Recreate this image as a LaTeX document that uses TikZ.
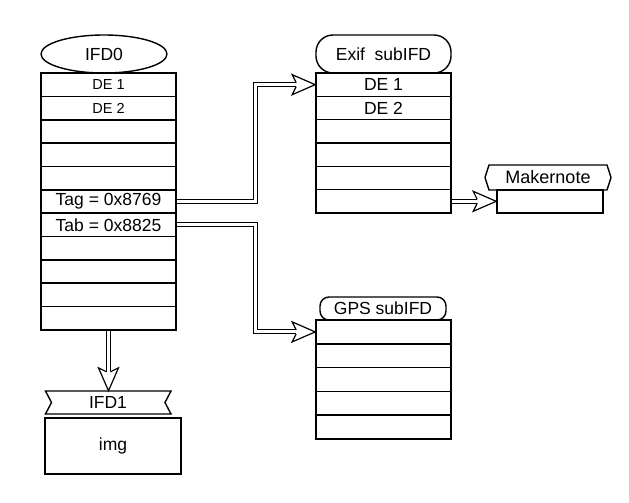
\documentclass[tikz,border=0pt]{standalone}
\usepackage{fontspec}
\setmainfont{Liberation Sans}
\usetikzlibrary{shapes.geometric}
\newcommand\fsz[1]{\fontsize{#1}{#1}\selectfont}
\begin{document}
\begin{tikzpicture}[x=1pt,y=-1pt,
  cell/.style={draw, line width=1.6pt, minimum width=135pt, inner sep=0pt, font=\fsz{17.5}},
  lbl/.style={inner sep=0pt, font=\fsz{17.5}},
  dbl/.style={draw, line width=1pt, double=white, double distance=3pt, line join=miter, shorten >=19pt},
  ohead/.pic={\filldraw[fill=white, line width=1.2pt, line join=miter] (-19,-2) -- (-23,-10) -- (0,0) -- (-23,10) -- (-19,2);}
]
\useasboundingbox (0,0) rectangle (629,503);
% IFD0
\node[draw, ellipse, line width=1.4pt, minimum width=126pt, minimum height=38pt, inner sep=0pt, font=\fsz{17.5}] (ifd0) at (104,54) {IFD0};
\foreach \i in {1,...,11}
  \node[cell, minimum height=23.36pt] (a\i) at (108.5,{73+23.36*(\i-0.5)}) {};
\node[lbl, font=\fsz{14.5}] at (a1) {DE 1};
\node[lbl, font=\fsz{14.5}] at (a2) {DE 2};
\node[lbl] at (a6) {Tag = 0x8769};
\node[lbl] at (a7) {Tab = 0x8825};
% Exif
\node[draw, line width=1.4pt, rounded corners=17pt, minimum width=135pt, minimum height=38pt, inner sep=0pt, font=\fsz{17.5}] (exif) at (383.5,54) {Exif\hspace{0.55em}subIFD};
\foreach \i in {1,...,6}
  \node[cell, minimum height=23.33pt] (e\i) at (383.5,{73+23.33*(\i-0.5)}) {};
\node[lbl] at (e1) {DE 1};
\node[lbl] at (e2) {DE 2};
% GPS
\node[draw, line width=1.4pt, rounded corners=9pt, minimum width=126pt, minimum height=23pt, inner sep=0pt, font=\fsz{17.5}] (gps) at (383,308.5) {GPS subIFD};
\foreach \i in {1,...,5}
  \node[cell, minimum height=23.8pt] (g\i) at (383.5,{320+23.8*(\i-0.5)}) {};
% Makernote
\node[lbl, font=\fsz{18}, minimum width=126pt, minimum height=25pt] (mk) at (548,177.5) {Makernote};
\draw[line width=1.4pt, line join=miter] (489,165) -- (607,165) -- (611,177.5) -- (607,190) -- (489,190) -- (485,177.5) -- cycle;
\node[cell, minimum width=106pt, minimum height=23pt] (mkbox) at (550,201.5) {};
% IFD1 + img
\node[lbl, minimum width=126pt, minimum height=23pt] (ifd1) at (108,402.5) {IFD1};
\draw[line width=1.4pt, line join=miter] (45.5,391) -- (171,391) -- (165,402.5) -- (171,414) -- (45.5,414) -- (51.5,402.5) -- cycle;
\node[cell, minimum width=136pt, minimum height=56pt] (img) at (113,446) {img};
% connectors
\coordinate (t1) at (255,0);
\draw[dbl] (a6.east) -| (t1 |- e1.west) -- (e1.west);
\pic at (e1.west) {ohead};
\draw[dbl] (a7.east) -| (t1 |- g1.west) -- (g1.west);
\pic at (g1.west) {ohead};
\draw[dbl] (e6.east) -- (e6.east -| mkbox.west);
\pic at (e6.east -| mkbox.west) {ohead};
\draw[dbl] (a11.south) -- (a11.south |- ifd1.north);
\pic[rotate=-90] at (a11.south |- ifd1.north) {ohead};
\end{tikzpicture}
\end{document}
